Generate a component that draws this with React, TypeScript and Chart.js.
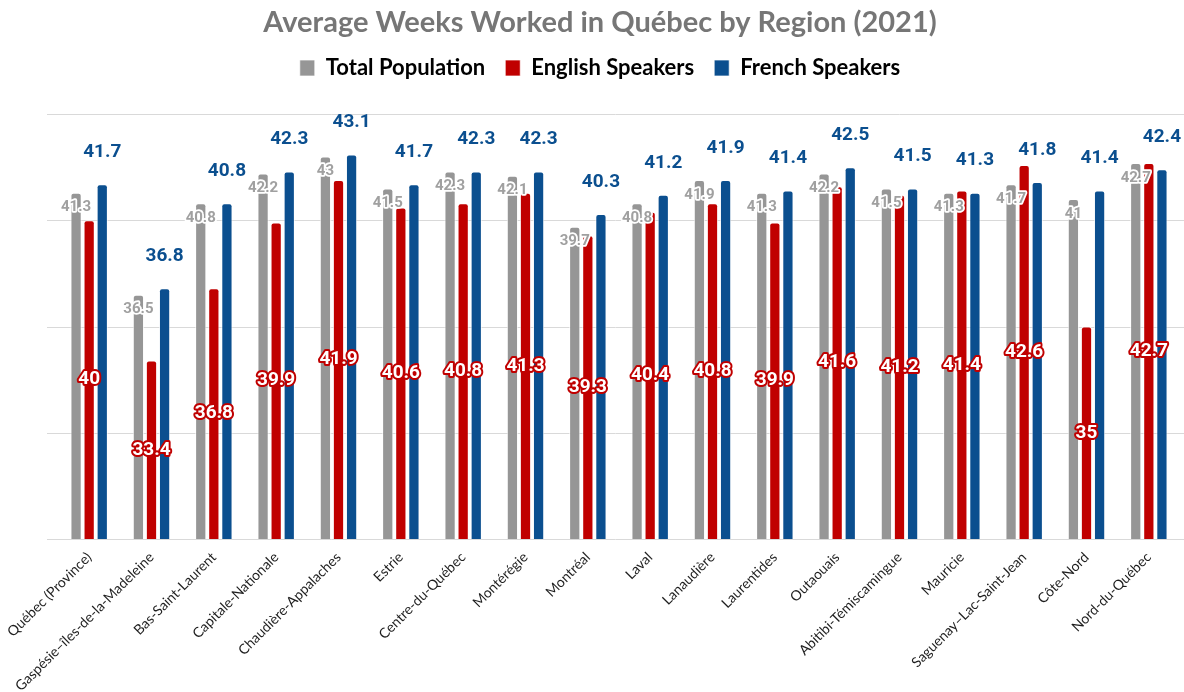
import React, { useEffect, useRef } from "react";
import { Chart, registerables } from "chart.js";

Chart.register(...registerables);

const regions = [
  "Québec (Province)",
  "Gaspésie–îles-de-la-Madeleine",
  "Bas-Saint-Laurent",
  "Capitale-Nationale",
  "Chaudière-Appalaches",
  "Estrie",
  "Centre-du-Québec",
  "Montérégie",
  "Montréal",
  "Laval",
  "Lanaudière",
  "Laurentides",
  "Outaouais",
  "Abitibi-Témiscamingue",
  "Mauricie",
  "Saguenay–Lac-Saint-Jean",
  "Côte-Nord",
  "Nord-du-Québec",
];

const totalPopulation = [41.3, 36.5, 40.8, 42.2, 43, 41.5, 42.3, 42.1, 39.7, 40.8, 41.9, 41.3, 42.2, 41.5, 41.3, 41.7, 41, 42.7];
const englishSpeakers = [40, 33.4, 36.8, 39.9, 41.9, 40.6, 40.8, 41.3, 39.3, 40.4, 40.8, 39.9, 41.6, 41.2, 41.4, 42.6, 35, 42.7];
const frenchSpeakers = [41.7, 36.8, 40.8, 42.3, 43.1, 41.7, 42.3, 42.3, 40.3, 41.2, 41.9, 41.4, 42.5, 41.5, 41.3, 41.8, 41.4, 42.4];

const yMin = 25;
const yMax = 45;
const yStep = 5;

const GRAY = "#969696";
const RED = "#c00000";
const BLUE = "#0b4f8f";

const gridPlugin = {
  id: "extGrid",
  beforeDatasetsDraw(chart: any) {
    const ctx = chart.ctx;
    const y = chart.scales.y;
    ctx.save();
    ctx.strokeStyle = "#d9d9d9";
    ctx.lineWidth = 1;
    for (let v = yMin; v <= yMax; v += yStep) {
      const py = Math.round(y.getPixelForValue(v)) + 0.5;
      ctx.beginPath();
      ctx.moveTo(47, py);
      ctx.lineTo(1184, py);
      ctx.stroke();
    }
    ctx.restore();
  },
};

const labelPlugin = {
  id: "valueLabels",
  afterDatasetsDraw(chart: any) {
    const ctx = chart.ctx;
    const base = chart.scales.y.getPixelForValue(yMin);
    ctx.save();
    ctx.textAlign = "center";
    ctx.textBaseline = "middle";
    ctx.lineJoin = "round";
    chart.data.datasets.forEach((ds: any, di: number) => {
      const meta = chart.getDatasetMeta(di);
      meta.data.forEach((el: any, i: number) => {
        const v = ds.data[i];
        const txt = String(v);
        const x = el.x;
        if (di === 0) {
          ctx.font = "bold 15px Roboto";
          ctx.lineWidth = 3.5;
          ctx.strokeStyle = "#ffffff";
          ctx.strokeText(txt, x, el.y + 15);
          ctx.fillStyle = "#a0a0a0";
          ctx.fillText(txt, x, el.y + 15);
        } else if (di === 1) {
          const my = (el.y + base) / 2;
          ctx.font = "bold 19px Roboto";
          ctx.lineWidth = 4;
          ctx.strokeStyle = RED;
          ctx.strokeText(txt, x, my);
          ctx.fillStyle = "#ffffff";
          ctx.fillText(txt, x, my);
        } else {
          ctx.font = "bold 19px Roboto";
          ctx.fillStyle = BLUE;
          ctx.fillText(txt, x, el.y - 32);
        }
      });
    });
    ctx.restore();
  },
};

export default function App() {
  const ref = useRef<HTMLCanvasElement | null>(null);
  useEffect(() => {
    document.body.style.margin = "0";
    if (!ref.current) return;
    const chart = new Chart(ref.current, {
      type: "bar",
      data: {
        labels: regions,
        datasets: [
          { label: "Total Population", data: totalPopulation, backgroundColor: GRAY },
          { label: "English Speakers", data: englishSpeakers, backgroundColor: RED },
          { label: "French Speakers", data: frenchSpeakers, backgroundColor: BLUE },
        ].map((d) => ({
          ...d,
          borderColor: "rgba(255,255,255,0.7)",
          borderWidth: 1,
          borderSkipped: "bottom",
          borderRadius: 3,
          categoryPercentage: 0.63,
          barPercentage: 0.86,
        })) as any,
      },
      options: {
        animation: false,
        responsive: false,
        maintainAspectRatio: false,
        layout: { padding: { left: 20, right: 4, top: 8, bottom: 0 } },
        plugins: {
          title: {
            display: true,
            text: "Average Weeks Worked in Québec by Region (2021)",
            color: "#767676",
            font: { family: "Lato", size: 29, weight: "bold", lineHeight: 1 },
            padding: { top: 0, bottom: 0 },
          },
          subtitle: {
            display: true,
            text: " ",
            weight: 500,
            font: { size: 1, lineHeight: 1 },
            padding: { top: 24, bottom: 0 },
          } as any,
          legend: {
            display: true,
            labels: {
              color: "#000000",
              font: { family: "Lato", size: 22, weight: "bold" },
              boxWidth: 15,
              boxHeight: 16,
              padding: 20,
            },
          },
          tooltip: { enabled: false },
        },
        scales: {
          x: {
            grid: { display: false },
            border: { display: false },
            ticks: {
              color: "#1e1e1e",
              font: { family: "Lato", size: 14 },
              maxRotation: 45,
              minRotation: 45,
              autoSkip: false,
              padding: 2,
            },
            afterFit: (s: any) => {
              s.height = 153;
            },
          },
          y: {
            min: yMin,
            max: yMax,
            ticks: { display: false, stepSize: yStep },
            grid: { display: false },
            border: { display: false },
            afterFit: (s: any) => {
              s.width = 38;
            },
          },
        },
      },
      plugins: [gridPlugin, labelPlugin],
    });
    return () => chart.destroy();
  }, []);
  return (
    <div style={{ width: 1184, height: 692 }}>
      <canvas ref={ref} width={1184} height={692} style={{ display: "block" }} />
    </div>
  );
}
